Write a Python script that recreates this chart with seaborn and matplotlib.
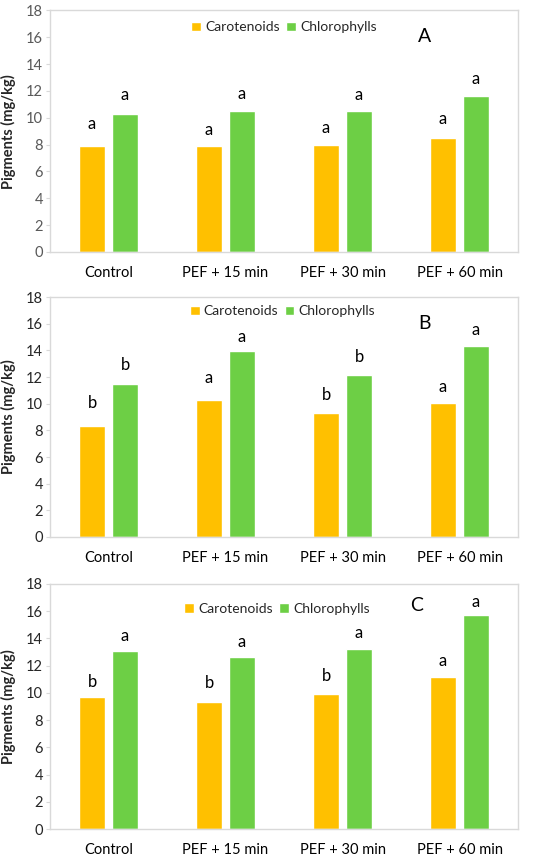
import matplotlib
matplotlib.use("Agg")
import matplotlib.pyplot as plt
import seaborn as sns
import pandas as pd

# treatments on the x axis
treatments = ["Control", "PEF + 15 min", "PEF + 30 min", "PEF + 60 min"]
pigments = ["Carotenoids", "Chlorophylls"]

# values (mg/kg)
carot_A = [7.87, 7.92, 7.99, 8.51]
chloro_A = [10.30, 10.52, 10.52, 11.59]
carot_B = [8.33, 10.25, 9.28, 10.02]
chloro_B = [11.45, 13.94, 12.14, 14.36]
carot_C = [9.68, 9.36, 9.93, 11.17]
chloro_C = [13.08, 12.64, 13.20, 15.72]

# significance letters and where they sit
let_carot_A = ["a", "a", "a", "a"]
let_chloro_A = ["a", "a", "a", "a"]
let_carot_B = ["b", "a", "b", "a"]
let_chloro_B = ["b", "a", "b", "a"]
let_carot_C = ["b", "b", "b", "a"]
let_chloro_C = ["a", "a", "a", "a"]

ypos_carot_A = [9.55, 9.10, 9.23, 9.93]
ypos_chloro_A = [11.71, 11.76, 11.71, 12.85]
ypos_carot_B = [10.02, 11.90, 10.65, 11.27]
ypos_chloro_B = [12.89, 15.01, 13.52, 15.56]
ypos_carot_C = [10.83, 10.71, 11.25, 12.37]
ypos_chloro_C = [14.18, 13.77, 14.43, 16.70]

sns.set_style("white")
plt.rcParams["font.family"] = ["Lato", "DejaVu Sans"]

colors = {"Carotenoids": "#FFC000", "Chlorophylls": "#6DCF45"}
frame = "#D9D9D9"

fig = plt.figure(figsize=(5.5, 8.6), dpi=100)

panels = [
    ("A", [0.0909, 0.707, 0.851, 0.281], carot_A, chloro_A,
     let_carot_A, let_chloro_A, ypos_carot_A, ypos_chloro_A,
     (0.50, 0.93), (0.80, 0.89), "#595959"),
    ("B", [0.0909, 0.3756, 0.851, 0.279], carot_B, chloro_B,
     let_carot_B, let_chloro_B, ypos_carot_B, ypos_chloro_B,
     (0.497, 0.94), (0.80, 0.89), "#262626"),
    ("C", [0.0909, 0.036, 0.851, 0.285], carot_C, chloro_C,
     let_carot_C, let_chloro_C, ypos_carot_C, ypos_chloro_C,
     (0.485, 0.897), (0.783, 0.91), "#262626"),
]

for (name, rect, car, chl, lc, lh, yc, yh, leg_xy, lab_xy, tick_col) in panels:
    ax = fig.add_axes(rect)
    df = pd.DataFrame({
        "Treatment": treatments * 2,
        "Pigment": ["Carotenoids"] * 4 + ["Chlorophylls"] * 4,
        "Value": car + chl,
    })
    sns.barplot(data=df, x="Treatment", y="Value", hue="Pigment",
                order=treatments, hue_order=pigments, palette=colors,
                width=0.564, gap=0.21, errorbar=None, saturation=1,
                ax=ax)

    # letters above the bars
    off = 0.141
    for i in range(4):
        ax.text(i - off, yc[i], lc[i], ha="center", va="center",
                fontsize=12, color="black")
        ax.text(i + off, yh[i], lh[i], ha="center", va="center",
                fontsize=12, color="black")

    ax.set_xlim(-0.5, 3.5)
    ax.set_ylim(0, 18)
    ax.set_yticks(range(0, 19, 2))
    ax.set_xlabel("")
    ax.set_ylabel("Pigments (mg/kg)", fontsize=10.5, fontweight="bold",
                  labelpad=7)
    ax.tick_params(axis="y", labelsize=10.5, length=3, width=0.8,
                   direction="out", left=True, pad=2,
                   colors=frame, labelcolor=tick_col)
    ax.tick_params(axis="x", labelsize=10.5, length=0, pad=10,
                   labelcolor="black")
    for s in ax.spines.values():
        s.set_color(frame)
        s.set_linewidth(1)

    ax.legend(loc="center", bbox_to_anchor=leg_xy, ncol=2,
              frameon=False, fontsize=10, handlelength=0.7,
              handleheight=0.7, handletextpad=0.3, columnspacing=0.45,
              borderaxespad=0)
    ax.text(lab_xy[0], lab_xy[1], name, transform=ax.transAxes,
            ha="center", va="center", fontsize=14, color="black")

fig.savefig("out.png", dpi=100)
